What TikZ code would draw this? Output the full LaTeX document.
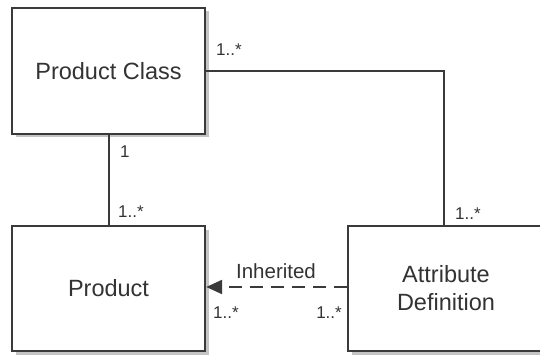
\documentclass[tikz,border=0pt]{standalone}
\usepackage{fontspec}
\setmainfont{Liberation Sans}
\usetikzlibrary{arrows.meta,shadows}
\definecolor{ln}{HTML}{3A3A3A}
\definecolor{tx}{HTML}{333333}
\definecolor{shd}{HTML}{C4C4C4}
\begin{document}
\begin{tikzpicture}[x=1pt,y=-1pt,
  box/.style={draw=ln, line width=2.4pt, fill=white, text=tx, align=center,
    font=\fontsize{23.5}{28}\selectfont, inner sep=0pt,
    drop shadow={shadow xshift=3.5pt, shadow yshift=-3.5pt, fill=shd, opacity=1}},
  conn/.style={draw=ln, line width=2pt},
  dconn/.style={draw=ln, line width=2.2pt, dash pattern=on 13pt off 8pt,
    -{Triangle[length=16pt,width=14pt]}},
  lbl/.style={text=tx, inner sep=0pt, font=\fontsize{17}{20}\selectfont},
  ilbl/.style={text=tx, inner sep=0pt, font=\fontsize{20.5}{24}\selectfont}]
\useasboundingbox (0,0) rectangle (540,355);
\node[box, minimum width=193pt, minimum height=126pt] (pc) at (108.5,71) {Product Class};
\node[box, minimum width=193pt, minimum height=125pt] (pr) at (108.5,288.5) {Product};
\node[box, minimum width=196pt, minimum height=125pt] (ad) at (446,288.5) {Attribute\\Definition};
\draw[conn] (pc.east) -| ([xshift=-2pt]ad.north);
\draw[conn] (pc.south) -- (pr.north);
\draw[dconn] ([yshift=1.5pt]ad.west) -- ([yshift=1.5pt]pr.east);
\node[lbl, anchor=base west] (m1) at (216,56) {1..*};
\node[lbl, anchor=base west] (m2) at (120,158) {1};
\node[lbl, anchor=base west] (m3) at (118,218) {1..*};
\node[lbl, anchor=base west] (m4) at (455,219) {1..*};
\node[lbl, anchor=base west] (m5) at (213,318) {1..*};
\node[lbl, anchor=base east] (m6) at (342,318) {1..*};
\node[ilbl, anchor=base] (inh) at (276,278) {Inherited};
\end{tikzpicture}
\end{document}
